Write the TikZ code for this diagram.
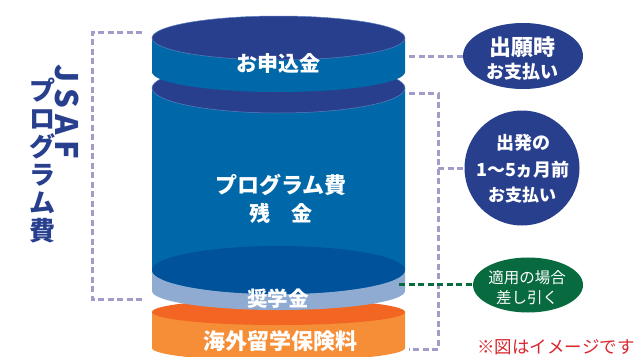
\documentclass[tikz,border=0pt]{standalone}
\usepackage{fontspec}
\setmainfont{Noto Sans CJK JP}
\usetikzlibrary{shapes.geometric}
\definecolor{navy}{HTML}{283F8E}
\definecolor{blueside}{HTML}{0068A8}
\definecolor{darkb}{HTML}{00529B}
\definecolor{bandc}{HTML}{8FABD2}
\definecolor{ortop}{HTML}{F26522}
\definecolor{orside}{HTML}{F68D37}
\definecolor{greenc}{HTML}{076B3F}
\definecolor{lav}{HTML}{A29CCB}
\definecolor{redc}{HTML}{D9262E}
\definecolor{edgec}{HTML}{5A7FBF}
\tikzset{
  lavdash/.style={draw=lav, line width=3pt, dash pattern=on 6pt off 3.5pt},
  greendash/.style={draw=greenc, line width=3pt, dash pattern=on 6pt off 3.5pt},
  wlabel/.style={text=white, font=\bfseries, inner sep=0pt},
  fs/.style={font=\fontsize{#1}{#1}\selectfont\bfseries},
  fsr/.style={font=\fontsize{#1}{#1}\selectfont},
}
\begin{document}
\begin{tikzpicture}[x=1pt,y=-1pt]
\useasboundingbox (0,0) rectangle (636,356);
% orange cylinder
\fill[orside] (152,312) -- (152,348) arc[start angle=180,end angle=360,x radius=126.5pt,y radius=13pt] -- (405,312) -- cycle;
\fill[ortop] (278.5,312) ellipse[x radius=126.5pt,y radius=13pt];
% scholarship band
\fill[bandc] (152,270) -- (152,291) arc[start angle=180,end angle=360,x radius=126.5pt,y radius=19pt] -- (405,270) -- cycle;
% big blue cylinder
\fill[blueside] (152,88) -- (152,270) arc[start angle=180,end angle=360,x radius=126.5pt,y radius=24pt] -- (405,88) -- cycle;
\fill[darkb] (278.5,270) ellipse[x radius=126.5pt,y radius=24pt];
\filldraw[fill=navy, draw=edgec, line width=0.5pt] (278.5,88) ellipse[x radius=126.5pt,y radius=25pt];
% top cylinder
\fill[blueside] (152,38) -- (152,72) arc[start angle=180,end angle=360,x radius=126.5pt,y radius=20pt] -- (405,38) -- cycle;
\filldraw[fill=navy, draw=edgec, line width=0.5pt] (278.5,38) ellipse[x radius=126.5pt,y radius=22pt];

% labels in cylinders
\node[wlabel, fs=21] (l1) at (278,63) {お申込金};
\node[wlabel, fs=22] (l2) at (281,185) {プログラム費};
\node[wlabel, fs=21] (l3) at (281,213) {残　金};
\node[wlabel, fs=20.5] (l4) at (278,299) {奨学金};
\node[wlabel, fs=22] (l5) at (280,341) {海外留学保険料};

% left vertical title
\node[text=navy, inner sep=0pt, rotate=-90, fs=31] (jsaf) at (67,112) {J\hspace{6pt}S\hspace{6pt}A\hspace{6pt}F};
\node[text=navy, inner sep=0pt, align=center, font=\fontsize{26}{28}\selectfont\bfseries] (prog) at (42,161) {プ\\ロ\\グ\\ラ\\ム\\費};

% bubbles
\node[ellipse, fill=navy, minimum width=120pt, minimum height=66pt, inner sep=0pt] (b1) at (523,56) {};
\node[wlabel, fs=22] (b1a) at (522,47) {出願時};
\node[wlabel, fs=18] (b1b) at (522,72) {お支払い};

\node[circle, fill=navy, minimum size=115pt, inner sep=0pt] (b2) at (522,168) {};
\node[wlabel, fs=18] (b2a) at (523,143) {出発の};
\node[wlabel, fs=18] (b2b) at (523,170) {1～5ヵ月前};
\node[wlabel, fs=17] (b2c) at (522,195) {お支払い};

\node[ellipse, fill=greenc, minimum width=110pt, minimum height=55pt, inner sep=0pt] (g) at (528,285) {};
\node[text=white, inner sep=0pt, fsr=15.5] (ga) at (527,278) {適用の場合};
\node[text=white, inner sep=0pt, fsr=15.5] (gb) at (527,298) {差し引く};

\node[text=redc, inner sep=0pt, fsr=17.5] (note) at (556,347) {※図はイメージです};

% connectors
\coordinate (lt) at (142,32);
\coordinate (lc1) at (92,32);
\coordinate (lc2) at (92,299);
\coordinate (lb) at (142,299);
\draw[lavdash] (lt) -- (lc1) -- (lc2) -- (lb);

\coordinate (r1) at (409,56);
\draw[lavdash] (r1) -- (b1.west);

\coordinate (r2a) at (409,93);
\coordinate (r2c1) at (438,93);
\coordinate (r2c2) at (438,349);
\coordinate (r2b) at (409,349);
\coordinate (r2t) at (438,168);
\draw[lavdash] (r2a) -- (r2c1) -- (r2c2) -- (r2b);
\draw[lavdash] (r2t) -- (b2.west);

\coordinate (g1) at (399,284);
\draw[greendash] (g1) -- (g1 -| g.west);
\end{tikzpicture}
\end{document}
